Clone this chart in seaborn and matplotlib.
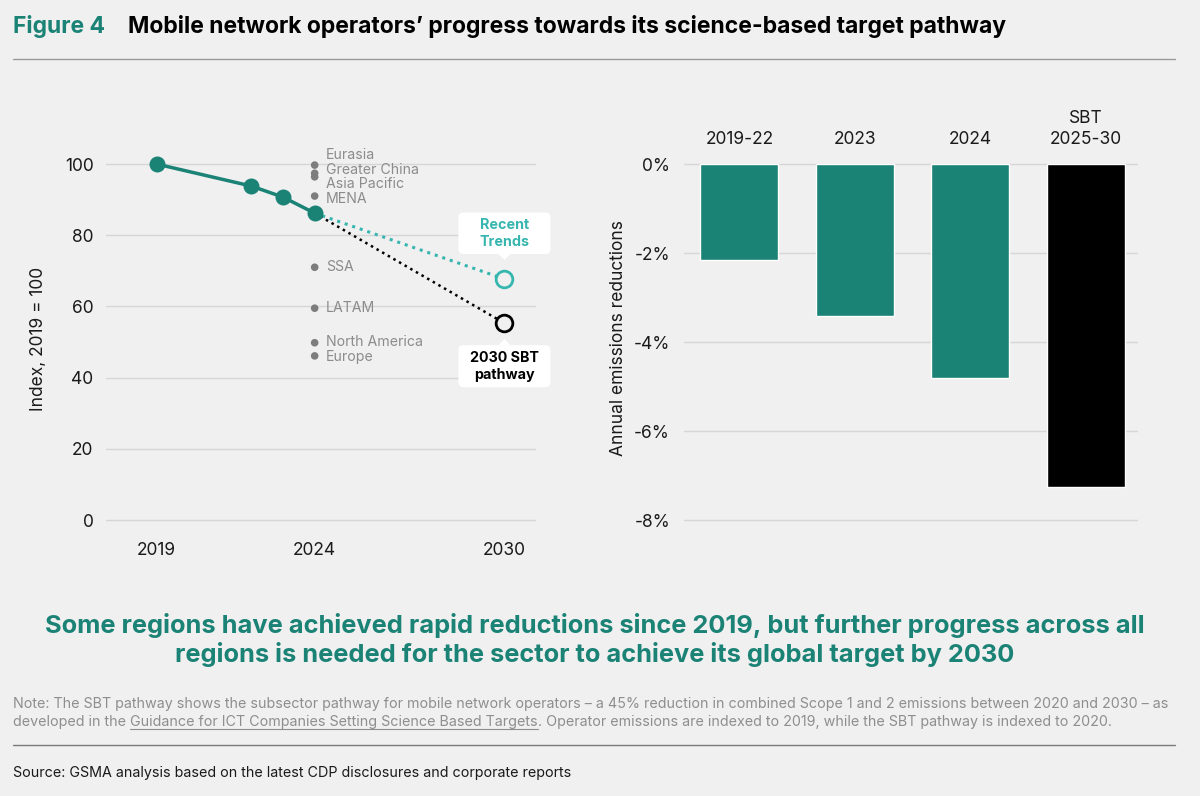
# Figure 4: mobile network operators' progress vs science-based target pathway

import matplotlib
matplotlib.use("Agg")
import matplotlib.pyplot as plt
import matplotlib.transforms as mtransforms
from matplotlib.patches import FancyBboxPatch, Polygon
from matplotlib.lines import Line2D
import pandas as pd
import seaborn as sns

# ---- data ----
years = [2019, 2022, 2023, 2024]
index_values = [100, 93.8, 90.7, 86.2]
target_year = 2030
recent_trend_2030 = 67.7
sbt_pathway_2030 = 55.3

regions = ['Eurasia', 'Greater China', 'Asia Pacific', 'MENA', 'SSA', 'LATAM', 'North America', 'Europe']
region_values = [99.7, 97.4, 96.4, 91.0, 71.0, 59.5, 49.8, 46.1]
region_label_y = [102.6, 98.4, 94.4, 90.2, 71.0, 59.5, 50.0, 45.8]  # spread so the names don't overlap

x_ticks = [2019, 2024, 2030]
y_ticks = [0, 20, 40, 60, 80, 100]

bar_labels = ['2019-22', '2023', '2024', 'SBT\n2025-30']
bar_values = [-2.15, -3.41, -4.80, -7.26]
bar_ticks = [0, -2, -4, -6, -8]

TEAL = '#1b8276'
LIGHT_TEAL = '#36b6af'
BG = '#f0f0f0'
GRID = '#d6d6d6'

sns.set_theme(style='white')
plt.rcParams['font.family'] = ['Inter', 'DejaVu Sans']

fig = plt.figure(figsize=(12, 7.96), dpi=100, facecolor=BG)
ax1 = fig.add_axes([0.0883, 0.3333, 0.3584, 0.4830], facecolor=BG)
ax2 = fig.add_axes([0.570, 0.3333, 0.3783, 0.4830], facecolor=BG)

# ---- left: index line ----
df = pd.DataFrame({'year': years, 'index': index_values})
sns.lineplot(data=df, x='year', y='index', color=TEAL, lw=2.5, marker='o',
             markersize=11.5, markeredgewidth=0, ax=ax1, zorder=5)
sns.lineplot(x=[years[-1], target_year], y=[index_values[-1], recent_trend_2030],
             color=LIGHT_TEAL, lw=2.2, linestyle=(0, (1, 1.6)), ax=ax1, zorder=3)
sns.lineplot(x=[years[-1], target_year], y=[index_values[-1], sbt_pathway_2030],
             color='black', lw=1.8, linestyle=(0, (1, 1.6)), ax=ax1, zorder=3)
ax1.plot([target_year], [recent_trend_2030], 'o', ms=12, mfc=BG, mec=LIGHT_TEAL, mew=2, zorder=6)
ax1.plot([target_year], [sbt_pathway_2030], 'o', ms=12, mfc=BG, mec='black', mew=2, zorder=6)

sns.scatterplot(x=[years[-1]] * len(regions), y=region_values, color='#7d7d7d', s=30,
                edgecolor='none', ax=ax1, zorder=4)
for name, ly in zip(regions, region_label_y):
    ax1.text(years[-1] + 0.35, ly, name, va='center', ha='left', fontsize=10.2, color='#8c8c8c')

ax1.set_xlim(2017.4, 2031.0)
ax1.set_ylim(-3, 105)
ax1.set_xticks(x_ticks)
ax1.set_yticks(y_ticks)
ax1.tick_params(axis='both', length=0, labelsize=12.5, colors='#1a1a1a')
ax1.tick_params(axis='x', pad=8)
ax1.tick_params(axis='y', pad=9)
ax1.set_xlabel('')
ax1.set_ylabel('Index, 2019 = 100', fontsize=12.5, color='#1a1a1a')
ax1.yaxis.set_label_coords(-0.136, 0.5)
ax1.grid(axis='y', color=GRID, lw=1)
ax1.set_axisbelow(True)
sns.despine(ax=ax1, left=True, bottom=True)


def callout(ax, x, y, text, color, above):
    # white rounded box with a small pointer, offsets in inches from the data point
    trans = fig.dpi_scale_trans + mtransforms.ScaledTranslation(x, y, ax.transData)
    if above:
        y0, y1, tip = 0.25, 0.665, 0.19
    else:
        y0, y1, tip = -0.64, -0.22, -0.16
    box = FancyBboxPatch((-0.46, y0), 0.92, y1 - y0, boxstyle='round,pad=0,rounding_size=0.05',
                         transform=trans, fc='white', ec='none', clip_on=False, zorder=7)
    ax.add_patch(box)
    edge = y0 if above else y1
    ax.add_patch(Polygon([(-0.06, edge), (0.06, edge), (0, tip)], closed=True, transform=trans,
                         fc='white', ec='none', clip_on=False, zorder=7))
    ax.text(0, (y0 + y1) / 2, text, transform=trans, ha='center', va='center', fontsize=10.3,
            fontweight='bold', color=color, linespacing=1.3, zorder=8)


callout(ax1, target_year, recent_trend_2030, 'Recent\nTrends', LIGHT_TEAL, True)
callout(ax1, target_year, sbt_pathway_2030, '2030 SBT\npathway', 'black', False)

# ---- right: annual reductions bars ----
bar_df = pd.DataFrame({'period': bar_labels, 'change': bar_values})
sns.barplot(data=bar_df, x='period', y='change', hue='period', palette=[TEAL, TEAL, TEAL, 'black'],
            legend=False, width=0.675, saturation=1, ax=ax2)
ax2.set_xlim(-0.48, 3.45)
ax2.set_ylim(-8.24, 0.4)
ax2.set_yticks(bar_ticks)
ax2.set_yticklabels([f'{v}%' for v in bar_ticks])
ax2.xaxis.tick_top()
ax2.tick_params(axis='both', length=0, labelsize=12.5, colors='#1a1a1a')
ax2.tick_params(axis='x', pad=-1.5)
ax2.tick_params(axis='y', pad=10)
for lbl in ax2.get_xticklabels():
    lbl.set_linespacing(1.3)
ax2.set_xlabel('')
ax2.set_ylabel('Annual emissions reductions', fontsize=12.5, color='#1a1a1a')
ax2.yaxis.set_label_coords(-0.126, 0.5)
ax2.grid(axis='y', color=GRID, lw=1)
ax2.set_axisbelow(True)
sns.despine(ax=ax2, left=True, bottom=True, top=True)

# ---- titles, headline, notes ----
fig.text(13 / 1200, 1 - 26 / 796, 'Figure 4', fontsize=16.5, fontweight='bold', color=TEAL, va='center')
fig.text(128 / 1200, 1 - 26 / 796, 'Mobile network operators\u2019 progress towards its science-based target pathway',
         fontsize=16.5, fontweight='bold', color='black', va='center')
fig.add_artist(Line2D([13 / 1200, 1175 / 1200], [1 - 59 / 796] * 2, color='#9a9a9a', lw=1))

fig.text(595 / 1200, 1 - 640 / 796,
         'Some regions have achieved rapid reductions since 2019, but further progress across all\n'
         'regions is needed for the sector to achieve its global target by 2030',
         ha='center', va='center', fontsize=18.3, fontweight='bold', color=TEAL, linespacing=1.2)

NOTE_GRAY = '#8e8e8e'
NOTE_SIZE = 10.3
fig.text(13 / 1200, 1 - 708 / 796,
         'Note: The SBT pathway shows the subsector pathway for mobile network operators \u2013 a 45% reduction '
         'in combined Scope 1 and 2 emissions between 2020 and 2030 \u2013 as',
         fontsize=NOTE_SIZE, color=NOTE_GRAY, va='baseline')

renderer = fig.canvas.get_renderer()


def text_width(s):
    t = fig.text(0, 0, s, fontsize=NOTE_SIZE)
    w = t.get_window_extent(renderer).width / fig.bbox.width
    t.remove()
    return w


space = text_width('a a') - text_width('aa')
base_y = 1 - 726 / 796
x0 = 13 / 1200
fig.text(x0, base_y, 'developed in the', fontsize=NOTE_SIZE, color=NOTE_GRAY, va='baseline')
x1 = x0 + text_width('developed in the') + space
link = 'Guidance for ICT Companies Setting Science Based Targets'
fig.text(x1, base_y, link, fontsize=NOTE_SIZE, color=NOTE_GRAY, va='baseline')
x2 = x1 + text_width(link)
fig.add_artist(Line2D([x1, x2], [base_y - 3 / 796] * 2, color=NOTE_GRAY, lw=0.8))
fig.text(x2, base_y, '. Operator emissions are indexed to 2019, while the SBT pathway is indexed to 2020.',
         fontsize=NOTE_SIZE, color=NOTE_GRAY, va='baseline')

fig.add_artist(Line2D([13 / 1200, 1175 / 1200], [1 - 745 / 796] * 2, color='#7a7a7a', lw=1))
fig.text(13 / 1200, 1 - 773 / 796, 'Source: GSMA analysis based on the latest CDP disclosures and corporate reports',
         fontsize=10.3, color='#1a1a1a', va='center')

fig.savefig('out.png', dpi=100, facecolor=BG)
